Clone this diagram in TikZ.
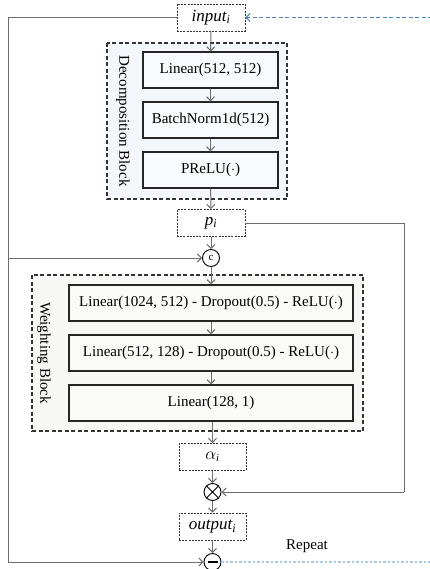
\documentclass[tikz,border=0pt]{standalone}
\usepackage{fontspec}
\setmainfont{Liberation Serif}
\usetikzlibrary{arrows.meta,positioning}
\definecolor{lineg}{HTML}{6E6E6E}
\definecolor{decofill}{HTML}{F3F7FB}
\definecolor{weighfill}{HTML}{F7F8F5}
\definecolor{loopblue}{HTML}{4F81BD}
\definecolor{loopblue2}{HTML}{A9CBEA}
\newcommand{\tvar}[2]{{\fontsize{17}{18}\selectfont\itshape #1\textsubscript{#2}}}
\tikzset{
  every node/.style={font=\fontsize{15}{18}\selectfont},
  layer/.style={draw=black!85, line width=1.2pt, minimum height=36pt, inner sep=0pt},
  tensor/.style={draw=black!80, line width=0.8pt, dash pattern=on 2pt off 1.2pt, minimum width=68pt, minimum height=27pt, fill=white, inner sep=0pt},
  block/.style={draw=black!80, line width=1.2pt, dash pattern=on 4pt off 2.5pt},
  op/.style={circle, draw=black, line width=0.9pt, minimum size=17pt, inner sep=0pt},
  conn/.style={draw=lineg, line width=1pt, -{Straight Barb[length=4pt,width=8pt]}},
  wire/.style={draw=lineg, line width=1pt},
}
\begin{document}
\begin{tikzpicture}[x=1pt,y=-1pt]
\clip (0,0) rectangle (430,569);
\useasboundingbox (0,0) rectangle (430,569);

% Decomposition block
\draw[block, fill=decofill] (107,43) rectangle (287,199);
\node[rotate=-90] (declab) at (123,121) {Decomposition Block};
\node[layer, fill=decofill!60, minimum width=135pt] (lin1) at (210.5,70) {Linear(512, 512)};
\node[layer, fill=decofill!60, minimum width=135pt] (bn) at (210.5,120) {BatchNorm1d(512)};
\node[layer, fill=decofill!60, minimum width=135pt] (prelu) at (210.5,170) {PReLU($\cdot$)};

% Weighting block
\draw[block, fill=weighfill] (32,275) rectangle (363,431);
\node[rotate=-90] (weilab) at (44,353) {Weighting Block};
\node[layer, fill=weighfill!60, minimum width=284pt] (w1) at (211,303) {Linear(1024, 512) - Dropout(0.5) - ReLU($\cdot$)};
\node[layer, fill=weighfill!60, minimum width=284pt] (w2) at (211,353) {Linear(512, 128) - Dropout(0.5) - ReLU($\cdot$)};
\node[layer, fill=weighfill!60, minimum width=284pt] (w3) at (211,403) {Linear(128, 1)};

% Tensors
\node[tensor] (inp) at (211,17.5) {\tvar{input}{i}};
\node[tensor] (p) at (211,223) {\tvar{p}{i}};
\node[tensor, minimum width=67pt] (alpha) at (212.5,457) {{\fontsize{17}{18}\selectfont$\alpha$}\textsubscript{\itshape i}};
\node[tensor, minimum width=67pt] (out) at (212.5,526.5) {\tvar{output}{i}};

% Operators
\node[op] (cat) at (211,258) {\fontsize{11}{12}\selectfont c};
\node[op] (mul) at (212.5,492) {};
\draw[line width=0.9pt] (mul.north west) -- (mul.south east) (mul.north east) -- (mul.south west);
\node[op] (sub) at (212.5,562) {};
\draw[line width=1.1pt] ([xshift=-5pt]sub.center) -- ([xshift=5pt]sub.center);

% Main flow
\draw[conn] (inp) -- (lin1);
\draw[conn] (lin1) -- (bn);
\draw[conn] (bn) -- (prelu);
\draw[conn] (prelu) -- (p);
\draw[conn] (p) -- (cat);
\draw[conn] (cat) -- (w1);
\draw[conn] (w1) -- (w2);
\draw[conn] (w2) -- (w3);
\draw[conn] (w3.south -| alpha.north) -- (alpha);
\draw[conn] (alpha) -- (mul);
\draw[conn] (mul) -- (out);
\draw[conn] (out) -- (sub);

% Skip connections
\coordinate (lt) at (8,17.5);
\coordinate (lb) at (8,562);
\coordinate (rt) at (404,223);
\coordinate (rb) at (404,492);
\draw[wire] (inp.west) -- (lt) -- (lb);
\draw[conn] (lb) -- (sub.west);
\draw[conn] (8,258) -- (cat.west);
\draw[wire] (p.east) -- (rt) -- (rb);
\draw[conn] (rb) -- (mul.east);

% Repeat loop
\coordinate (rin) at (432,17.5);
\coordinate (rout) at (432,562);
\draw[loopblue, line width=1pt, dash pattern=on 4pt off 2.5pt, -{Straight Barb[length=4pt,width=8pt]}] (rin) -- (inp.east);
\draw[loopblue2, line width=1.6pt, dash pattern=on 2.5pt off 2pt] (sub.east) -- (rout);
\node (rep) at (307,546) {Repeat};
\end{tikzpicture}
\end{document}
